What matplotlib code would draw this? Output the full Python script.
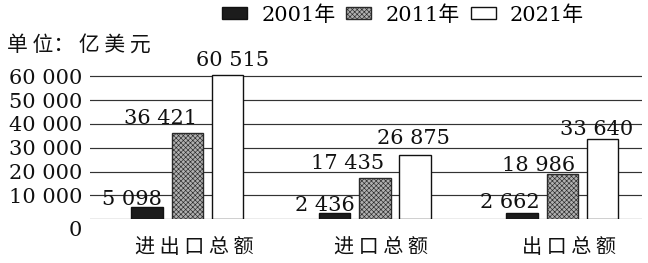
import matplotlib
matplotlib.use('Agg')
import matplotlib.pyplot as plt
import matplotlib.transforms as mtransforms
from matplotlib.patches import Patch
import numpy as np

# ---- data (100 million USD) ----
categories = ['进出口总额', '进口总额', '出口总额']
years = ['2001年', '2011年', '2021年']
values_2001 = [5098, 2436, 2662]
values_2011 = [36421, 17435, 18986]
values_2021 = [60515, 26875, 33640]
y_ticks = [0, 10000, 20000, 30000, 40000, 50000, 60000]
y_tick_labels = ['0', '10 000', '20 000', '30 000', '40 000', '50 000', '60 000']
unit_label = '单位：亿美元'

# ---- styling ----
plt.rcParams['hatch.linewidth'] = 0.45
NUM_FONT = ['DejaVu Serif', 'Noto Sans CJK SC']
CJK_FONT = ['Noto Sans CJK SC', 'DejaVu Sans']
FS = 15


def spaced(s):
    """Spread CJK characters out a little."""
    return ' '.join(s)


def fmt(v):
    return f'{v:,}'.replace(',', ' ')


fig = plt.figure(figsize=(6.48, 2.63), dpi=100)
ax = fig.add_axes([0.1389, 0.1662, 0.8518, 0.5617])
ax.set_xlim(-0.52, 2.425)
ax.set_ylim(0, 62000)

x = np.arange(len(categories))
offset = 0.2148
width = 0.168

series = [values_2001, values_2011, values_2021]
styles = [
    dict(facecolor='#1c1c1c', edgecolor='#111111', linewidth=1.0),
    dict(facecolor='#b0b0b0', edgecolor='#2a2a2a', linewidth=1.0, hatch='xxxxxxx'),
    dict(facecolor='white', edgecolor='#111111', linewidth=1.0),
]
# per-label nudges (pixels) so the numbers do not collide
label_dx = [[-15, -10, -12], [-27, -27, -24], [5, -2, -6]]
label_dy = [[2, 2, 5], [9, 9, 3], [9, 11, 4]]

for i, (vals, st) in enumerate(zip(series, styles)):
    xs = x + (i - 1) * offset
    ax.bar(xs, vals, width=width, zorder=3, **st)
    for j, (xc, v) in enumerate(zip(xs, vals)):
        ax.annotate(fmt(v), (xc, v),
                    xytext=(label_dx[i][j] * 0.72, label_dy[i][j] * 0.72),
                    textcoords='offset points', ha='center', va='baseline',
                    fontsize=FS, family=NUM_FONT, color='#111111',
                    zorder=4, annotation_clip=False)

# gridlines
ax.set_yticks(y_ticks)
ax.yaxis.grid(True, color='#333333', linewidth=0.85)
ax.set_axisbelow(True)
for sp in ax.spines.values():
    sp.set_visible(False)

ax.tick_params(axis='y', length=0, pad=5.5)
ax.tick_params(axis='x', length=0, pad=12.5)
ax.set_yticklabels(y_tick_labels, fontsize=FS, family=NUM_FONT, color='#111111')
ax.set_xticks(x + 0.035)
ax.set_xticklabels([spaced(c) for c in categories], fontsize=14.5,
                   family=CJK_FONT, color='#111111')

# zero label sits a little lower than its gridline
zero_lbl = ax.get_yticklabels()[0]
zero_lbl.set_transform(zero_lbl.get_transform() +
                       mtransforms.ScaledTranslation(0, -0.09, fig.dpi_scale_trans))

# unit caption
fig.text(7 / 648, 1 - 45 / 263, '单 位： 亿 美 元', ha='left', va='center',
         fontsize=FS, family=CJK_FONT, color='#111111')

# legend
handles = [Patch(**st) for st in styles]
fig.legend(handles, years, loc='center', bbox_to_anchor=(403 / 648, 1 - 15 / 263),
           ncol=3, frameon=False, prop=dict(family=NUM_FONT, size=FS),
           handlelength=1.2, handleheight=0.5, handletextpad=0.67,
           columnspacing=0.53, borderpad=0, borderaxespad=0)

fig.savefig('out.png', dpi=100)
